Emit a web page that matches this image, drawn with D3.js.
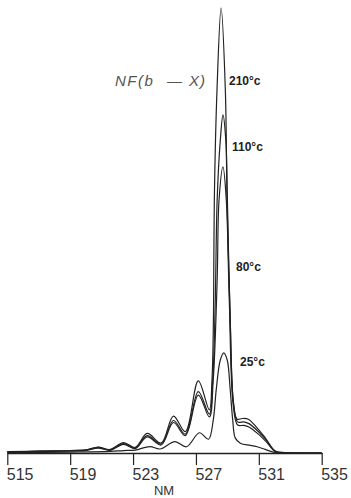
<!DOCTYPE html>
<html>
<head lang="en">
    <meta charset="UTF-8">
    <script src="https://cdn.jsdelivr.net/npm/d3@7"></script>
    <style>
        body { margin: 0; background: #fff; }
        svg { display: block; }
    </style>
</head>
<body>
<svg width="351" height="498"></svg>
<script>
    // emission spectra NF(b - X), wavelength in nm, intensity in arbitrary units
    var ticks = [515, 519, 523, 527, 531, 535];

    var nm210 = [515, 517.1, 519, 519.95, 520.78, 521.54, 522.39, 523.13, 523.9, 524.79, 525.57, 526.32, 527.15, 527.85,
        528.02, 528.12, 528.17, 528.34, 528.6, 528.87, 528.98, 529.18, 529.37, 529.62, 529.94, 530.33, 530.9, 531.41, 532.05, 532.7, 535];
    var i210 = [0.3, 0.45, 0.55, 0.7, 1.35, 0.8, 2.35, 1.25, 4.4, 2.25, 8.3, 4.8, 16.2, 9.7,
        16.4, 32.1, 56.9, 81.6, 100, 81.6, 56.9, 29.9, 11.9, 7.6, 7.75, 7.6, 5.6, 3.4, 0.45, 0.1, 0];

    var nm110 = [515, 517.1, 519, 519.95, 520.78, 521.54, 522.39, 523.13, 523.9, 524.79, 525.57, 526.32, 527.15, 527.85,
        528.07, 528.23, 528.35, 528.55, 528.72, 528.9, 529, 529.18, 529.4, 529.65, 530.05, 530.37, 530.95, 531.48, 532.05, 532.7, 535];
    var i110 = [0.25, 0.4, 0.5, 0.6, 1.25, 0.7, 2.1, 1.1, 3.9, 2.0, 7.3, 4.25, 13.8, 8.75,
        16.4, 34.4, 56.9, 70.3, 76, 70.3, 56.9, 29.9, 10.8, 7.0, 7.0, 6.6, 4.9, 2.9, 0.35, 0.1, 0];

    var nm80 = [515, 517.1, 519, 519.95, 520.78, 521.54, 522.39, 523.13, 523.9, 524.79, 525.57, 526.32, 527.15, 527.85,
        528.1, 528.35, 528.47, 528.72, 528.93, 529.12, 529.37, 529.65, 530.05, 530.37, 530.95, 531.48, 532.05, 532.7, 535];
    var i80 = [0.2, 0.35, 0.45, 0.55, 1.1, 0.6, 1.95, 1.0, 3.6, 1.8, 6.85, 3.9, 13.0, 8.1,
        16.4, 38.9, 56.9, 64.3, 56.9, 34.4, 10.8, 6.3, 6.2, 5.85, 4.3, 2.5, 0.35, 0.1, 0];

    var nm25 = [515, 519, 521.54, 522.38, 523.13, 524.07, 524.71, 525.66, 526.4, 527.22, 527.8,
        528.1, 528.29, 528.55, 528.77, 528.99, 529.18, 529.34, 529.5, 529.82, 530.46, 530.9, 531.41, 531.92, 532.7, 535];
    var i25 = [0.1, 0.2, 0.35, 0.55, 0.65, 1.45, 0.9, 2.55, 1.4, 4.55, 3.1,
        7.4, 14.2, 20.9, 22.5, 20.9, 14.2, 7.4, 3.4, 2.2, 1.7, 1.4, 0.8, 0.2, 0, 0];

    var series = [
        {label: '210', nm: nm210, v: i210, lx: 229, ly: 85},
        {label: '110', nm: nm110, v: i110, lx: 232, ly: 151},
        {label: '80', nm: nm80, v: i80, lx: 236, ly: 271},
        {label: '25', nm: nm25, v: i25, lx: 240, ly: 366}
    ];

    var svg = d3.select('svg');
    var g = svg.append('g');

    var x = d3.scaleLinear().domain([515, 535]).range([7.3, 321.7]);
    var y = d3.scaleLinear().domain([0, 100]).range([453, 8]);

    var line = d3.line()
            .x(function (d) { return x(d[0]); })
            .y(function (d) { return y(d[1]); })
            .curve(d3.curveCatmullRom.alpha(0.5));

    g.selectAll('.spectrum')
            .data(series)
            .enter()
            .append('path')
            .attr('class', 'spectrum')
            .attr('d', function (s) {
                return line(s.nm.map(function (n, i) { return [n, s.v[i]]; }));
            })
            .attr('fill', 'none')
            .attr('stroke', '#222')
            .attr('stroke-width', 1.2)
            .attr('stroke-linejoin', 'round');

    var axis = g.append('g')
            .attr('transform', 'translate(0,' + y(0) + ')')
            .call(d3.axisBottom(x).tickValues(ticks).tickSize(12).tickSizeOuter(0).tickFormat(d3.format('d')));
    axis.select('.domain').attr('stroke', '#222').attr('stroke-width', 1.3);
    axis.selectAll('.tick line').attr('stroke', '#222').attr('stroke-width', 1.2);
    axis.selectAll('.tick text')
            .attr('text-anchor', 'start')
            .attr('x', -1)
            .attr('y', 27)
            .attr('dy', 0)
            .style('font-family', 'Liberation Sans, sans-serif')
            .style('font-size', '16px')
            .attr('fill', '#333');

    g.append('text')
            .attr('x', 164)
            .attr('y', 495)
            .attr('text-anchor', 'middle')
            .style('font-family', 'Liberation Sans, sans-serif')
            .style('font-size', '13px')
            .attr('fill', '#333')
            .text('NM');

    // temperature labels
    g.selectAll('.temp')
            .data(series)
            .enter()
            .append('text')
            .attr('class', 'temp')
            .attr('x', function (d) { return d.lx; })
            .attr('y', function (d) { return d.ly; })
            .style('font-family', 'Liberation Sans, sans-serif')
            .style('font-size', '12px')
            .style('font-weight', 'bold')
            .attr('fill', '#222')
            .text(function (d) { return d.label + '°c'; });

    // title in the plot
    var title = g.append('text')
            .attr('y', 86)
            .style('font-family', 'Liberation Sans, sans-serif')
            .style('font-style', 'italic')
            .style('font-size', '15px')
            .attr('fill', '#555');
    title.append('tspan').attr('x', 115).style('letter-spacing', '1.5px').text('NF(b');
    title.append('tspan').attr('x', 167).text('\u2014');
    title.append('tspan').attr('x', 189).style('letter-spacing', '1px').text('X)');
</script>
</body>
</html>
